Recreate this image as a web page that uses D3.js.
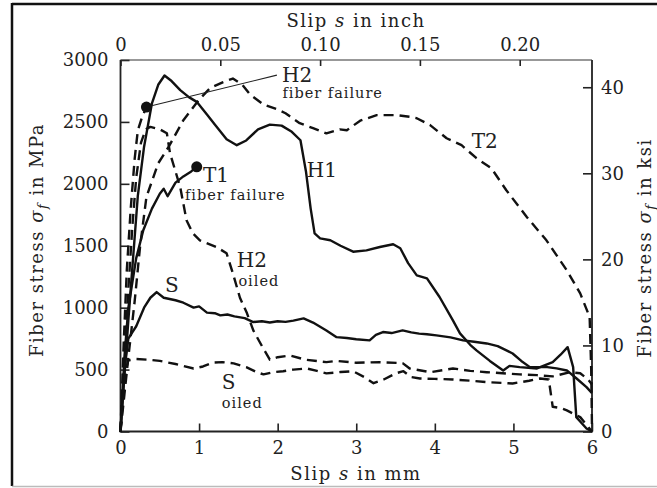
<!DOCTYPE html>
<html><head><meta charset="utf-8">
<script src="https://cdn.jsdelivr.net/npm/d3@7"></script>
<style>
body{margin:0;background:#fff}
text{font-family:"DejaVu Serif",serif;fill:#222}
</style>
</head><body>
<svg id="c" width="657" height="488"></svg>
<script>
// ---- tick labels ----
const slipTicksMm = [0,1,2,3,4,5,6];
const slipTicksInch = [0,0.05,0.10,0.15,0.20];
const stressTicksMPa = [0,500,1000,1500,2000,2500,3000];
const stressTicksKsi = [0,10,20,30,40];

// ---- series values: [slip mm, fiber stress MPa] ----
const H1 = [[0,0],[0.05,450],[0.1,900],[0.16,1400],[0.22,1900],[0.3,2300],[0.4,2650],[0.48,2800],[0.56,2875],[0.65,2830],[0.76,2757],[0.87,2700],[0.97,2662],[1.1,2560],[1.2,2480],[1.35,2360],[1.48,2312],[1.6,2350],[1.75,2440],[1.9,2478],[2.05,2470],[2.18,2420],[2.29,2352],[2.36,2100],[2.42,1800],[2.47,1600],[2.54,1560],[2.67,1544],[2.8,1500],[2.96,1452],[3.13,1463],[3.3,1490],[3.47,1512],[3.56,1480],[3.66,1360],[3.77,1261],[3.9,1237],[4.06,1086],[4.23,897],[4.32,792],[4.45,700],[4.53,655],[4.7,570],[4.87,493],[4.95,530],[5.08,520],[5.3,509],[5.5,560],[5.6,620],[5.69,681],[5.76,520],[5.8,116],[5.93,24],[6,0]];
const H2 = [[0,0],[0.04,700],[0.08,1300],[0.13,1800],[0.18,2200],[0.22,2430],[0.27,2530],[0.33,2620]];
const H2oiled = [[0,0],[0.05,600],[0.1,1150],[0.15,1650],[0.2,2050],[0.26,2330],[0.32,2440],[0.38,2460],[0.5,2440],[0.59,2408],[0.63,2247],[0.7,2100],[0.76,1973],[0.84,1706],[0.92,1600],[1.01,1544],[1.22,1490],[1.35,1439],[1.43,1277],[1.52,1080],[1.61,954],[1.69,816],[1.8,690],[1.9,580],[2.0,600],[2.16,614],[2.35,580],[2.62,560],[2.75,570],[3.0,555],[3.3,560],[3.59,552],[3.68,509],[3.94,479],[4.1,495],[4.23,509],[4.45,490],[4.66,479],[5.08,461],[5.3,455],[5.5,445],[5.72,479],[5.85,470],[5.95,420],[6,380]];
const T1 = [[0,0],[0.05,600],[0.1,1000],[0.2,1400],[0.29,1625],[0.4,1800],[0.5,1920],[0.55,1960],[0.6,1900],[0.7,2010],[0.8,2060],[0.9,2100],[0.97,2137]];
const T2 = [[0,0],[0.05,300],[0.1,600],[0.18,1050],[0.25,1500],[0.33,1894],[0.48,2166],[0.61,2296],[0.8,2514],[1.0,2680],[1.14,2773],[1.3,2820],[1.43,2850],[1.55,2800],[1.65,2720],[1.82,2640],[2.0,2600],[2.1,2570],[2.28,2490],[2.45,2450],[2.62,2408],[2.79,2440],[2.88,2433],[3.05,2510],[3.26,2555],[3.51,2555],[3.68,2541],[3.77,2530],[3.94,2474],[4.15,2368],[4.34,2312],[4.53,2207],[4.72,2126],[4.91,1948],[5.17,1732],[5.42,1544],[5.68,1301],[5.85,1115],[5.97,924],[5.99,500],[6,30]];
const S = [[0,0],[0.05,500],[0.1,750],[0.15,800],[0.2,850],[0.3,1000],[0.38,1080],[0.46,1126],[0.55,1080],[0.7,1060],[0.8,1040],[0.93,1000],[1.0,1010],[1.1,960],[1.2,955],[1.27,938],[1.36,945],[1.45,930],[1.58,915],[1.69,884],[1.8,890],[1.9,880],[2.0,890],[2.1,885],[2.2,895],[2.33,913],[2.45,880],[2.62,816],[2.75,762],[2.88,755],[3.0,745],[3.17,736],[3.25,780],[3.34,803],[3.45,795],[3.59,816],[3.7,800],[3.8,790],[3.9,785],[4.02,776],[4.2,760],[4.36,736],[4.5,725],[4.66,711],[4.8,690],[4.99,630],[5.1,570],[5.21,520],[5.43,520],[5.55,510],[5.68,493],[5.8,430],[5.93,358],[6,310]];
const Soiled = [[0,0],[0.03,250],[0.07,500],[0.1,575],[0.2,585],[0.35,580],[0.5,570],[0.7,545],[0.93,509],[1.05,525],[1.18,557],[1.3,560],[1.44,550],[1.6,520],[1.75,475],[1.82,461],[1.95,480],[2.07,487],[2.2,500],[2.37,509],[2.5,490],[2.62,469],[2.8,480],[2.96,487],[3.1,440],[3.22,390],[3.35,420],[3.51,471],[3.6,487],[3.7,440],[3.81,428],[4.0,425],[4.23,420],[4.45,410],[4.66,399],[4.99,388],[5.2,410],[5.34,428],[5.45,420],[5.5,200],[5.6,190],[5.68,170],[5.85,116],[6,0]];

const seriesNames = ["H1","H2","H2 oiled","T1","T2","S","S oiled"];
const seriesData = [H1,H2,H2oiled,T1,T2,S,Soiled];
const seriesDashed = [false,true,true,false,true,false,true];

// failure points (end of curve) and annotation anchors [mm, MPa]
const failurePoints = [[0.33,2620],[0.97,2137]];
const leaderLine = [[0.33,2620],[1.99,2878]];
const labelTexts = ["H2","fiber failure","T2","H1","T1","fiber failure","H2","oiled","S","S","oiled"];
const labelAnchors = [[2.055,2820],[2.06,2690],[4.47,2289],[2.37,2055],[1.05,2012],[0.82,1868],[1.48,1325],[1.5,1178],[0.566,1127],[1.29,342],[1.29,192]];
const labelBig = [true,false,true,true,true,false,true,false,true,true,false];

const MPA_PER_KSI = 69.5;

const svg = d3.select("#c");
const L=120.5, R=592, T=60, B=431.5;

const x = d3.scaleLinear().domain([0,6]).range([L,R]);
const xIn = d3.scaleLinear().domain([0,6/25.4]).range([L,R]);
const y = d3.scaleLinear().domain([0,3000]).range([B,T]);
const yKsi = d3.scaleLinear().domain([0,3000/MPA_PER_KSI]).range([B,T]);

// outer border
svg.append("line").attr("x1",12).attr("x2",657).attr("y1",4).attr("y2",4).attr("stroke","#111").attr("stroke-width",2.5);
svg.append("line").attr("x1",12).attr("x2",12).attr("y1",3).attr("y2",486).attr("stroke","#111").attr("stroke-width",2.5);
svg.append("line").attr("x1",12).attr("x2",657).attr("y1",486.5).attr("y2",486.5).attr("stroke","#bbb").attr("stroke-width",1.5);

const fs = 18;
function styleAxis(g){
  g.select(".domain").remove();
  g.selectAll(".tick line").attr("stroke","#222").attr("stroke-width",1.6);
  g.selectAll(".tick text").attr("font-size",fs).attr("font-family","DejaVu Serif").attr("fill","#222");
}

svg.append("g").attr("transform",`translate(0,${B})`)
  .call(d3.axisBottom(x).tickValues(slipTicksMm).tickFormat(d3.format("d")).tickSize(-8).tickPadding(10)).call(styleAxis);
svg.append("g").attr("transform",`translate(0,${T})`)
  .call(d3.axisTop(xIn).tickValues(slipTicksInch).tickFormat(d=>d===0?"0":d3.format(".2f")(d)).tickSize(-6).tickPadding(9)).call(styleAxis);
svg.append("g").attr("transform",`translate(${L},0)`)
  .call(d3.axisLeft(y).tickValues(stressTicksMPa).tickFormat(d3.format("d")).tickSize(-9).tickPadding(12)).call(styleAxis);
svg.append("g").attr("transform",`translate(${R},0)`)
  .call(d3.axisRight(yKsi).tickValues(stressTicksKsi).tickFormat(d3.format("d")).tickSize(-9).tickPadding(9)).call(styleAxis);

// frame (top edge thinner, as in the scan)
svg.append("path").attr("d",`M${L},${T}V${B}H${R}V${T}`).attr("fill","none").attr("stroke","#222").attr("stroke-width",1.8);
svg.append("line").attr("x1",L).attr("x2",R).attr("y1",T).attr("y2",T).attr("stroke","#333").attr("stroke-width",1.2);

// curves
const line = d3.line().x(d=>x(d[0])).y(d=>y(d[1])).curve(d3.curveLinear);
seriesData.forEach((data,i)=>{
  svg.append("path").attr("d",line(data)).attr("fill","none")
    .attr("stroke","#111").attr("stroke-width",2.4)
    .attr("stroke-linejoin","round")
    .attr("stroke-dasharray",seriesDashed[i]?"10,6":null)
    .attr("class","series-"+seriesNames[i].replace(" ","-"));
});

// leader + failure dots
svg.append("path").attr("d",line(leaderLine)).attr("stroke","#222").attr("stroke-width",1.1).attr("fill","none");
svg.selectAll("circle.fail").data(failurePoints).join("circle").attr("class","fail")
  .attr("cx",d=>x(d[0])).attr("cy",d=>y(d[1])).attr("r",5.5).attr("fill","#111");

// curve labels
labelTexts.forEach((t,i)=>{
  svg.append("text").attr("x",x(labelAnchors[i][0])).attr("y",y(labelAnchors[i][1]))
    .attr("font-size",labelBig[i]?20:14.5).attr("letter-spacing",labelBig[i]?0:1)
    .text(t);
});

// axis titles
const topTitle = svg.append("text").attr("x",356).attr("y",27).attr("text-anchor","middle").attr("font-size",18).attr("letter-spacing",1.5);
topTitle.append("tspan").text("Slip ");
topTitle.append("tspan").attr("font-style","italic").text("s");
topTitle.append("tspan").text(" in inch");

const botTitle = svg.append("text").attr("x",356).attr("y",480).attr("text-anchor","middle").attr("font-size",18).attr("letter-spacing",1.5);
botTitle.append("tspan").text("Slip ");
botTitle.append("tspan").attr("font-style","italic").text("s");
botTitle.append("tspan").text(" in mm");

function yTitle(cx,cy,unit){
  const t = svg.append("text").attr("transform",`translate(${cx},${cy}) rotate(-90)`)
    .attr("text-anchor","middle").attr("font-size",18).attr("letter-spacing",1.5);
  t.append("tspan").text("Fiber stress ");
  t.append("tspan").attr("font-style","italic").text("σ");
  t.append("tspan").attr("font-style","italic").attr("font-size",13).attr("dy",4).text("f");
  t.append("tspan").attr("dy",-4).text(" in "+unit);
}
yTitle(43,240,"MPa");
yTitle(651,248,"ksi");
</script>
</body></html>
